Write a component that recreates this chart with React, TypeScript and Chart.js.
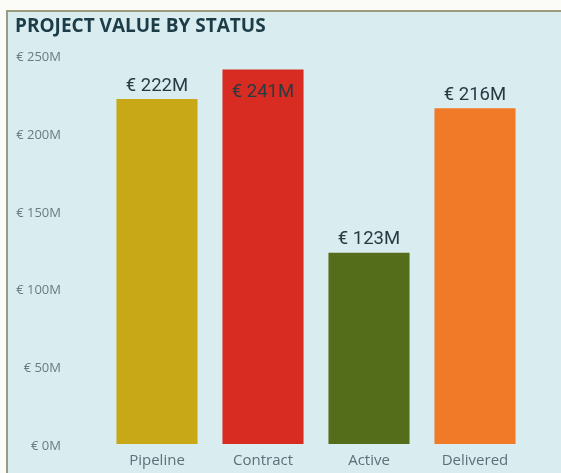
import React, { useEffect, useRef } from "react";
import { Chart, registerables } from "chart.js";

Chart.register(...registerables);

const categories = ["Pipeline", "Contract", "Active", "Delivered"];
const values = [222, 241, 123, 216];
const barColors = ["#c9a817", "#d82b22", "#536d1a", "#f07a27"];
const yTicks = [0, 50, 100, 150, 200, 250];

const FONT = "'Open Sans', 'DejaVu Sans', sans-serif";
const LABEL_FONT = "Roboto, 'Open Sans', sans-serif";

const valueLabels = {
  id: "valueLabels",
  afterDatasetsDraw(chart: any) {
    const ctx = chart.ctx;
    const meta = chart.getDatasetMeta(0);
    const area = chart.chartArea;
    ctx.save();
    ctx.font = `18.5px ${LABEL_FONT}`;
    ctx.fillStyle = "#263b42";
    ctx.textAlign = "center";
    ctx.textBaseline = "middle";
    meta.data.forEach((bar: any, i: number) => {
      const txt = `€ ${values[i]}M`;
      const inside = bar.y - area.top < 30;
      const y = inside ? bar.y + 23 : bar.y - 13;
      ctx.fillText(txt, bar.x, y);
    });
    ctx.restore();
  },
};

export default function App() {
  const ref = useRef<HTMLCanvasElement | null>(null);
  useEffect(() => {
    if (!ref.current) return;
    const chart = new Chart(ref.current, {
      type: "bar",
      data: {
        labels: categories,
        datasets: [
          {
            data: values,
            backgroundColor: barColors,
            borderWidth: 0,
            barPercentage: 0.765,
            categoryPercentage: 1,
          },
        ],
      },
      options: {
        animation: false,
        responsive: false,
        maintainAspectRatio: false,
        layout: { padding: { left: 15, right: 33, top: 12, bottom: 2 } },
        plugins: {
          legend: { display: false },
          tooltip: { enabled: false },
          title: {
            display: true,
            text: "PROJECT VALUE BY STATUS",
            align: "start",
            color: "#1c3c47",
            font: { family: FONT, size: 19, weight: "bold" },
            padding: { top: 3.5, bottom: 17.2 },
          },
        },
        scales: {
          x: {
            grid: { display: false, drawTicks: false },
            border: { display: false },
            ticks: {
              color: "#5b7078",
              font: { family: FONT, size: 15 },
              padding: 8,
            },
            afterFit: (s: any) => {
              s.height = 27;
              s.paddingTop = 0;
              s.paddingBottom = 0;
            },
          },
          y: {
            min: 0,
            max: 250,
            afterBuildTicks: (s: any) => {
              s.ticks = yTicks.map((v) => ({ value: v }));
            },
            grid: { display: false, drawTicks: false },
            border: { display: false },
            ticks: {
              color: "#6a7c83",
              font: { family: FONT, size: 13 },
              padding: 43,
              labelOffset: 2,
              callback: (v: any) => `€ ${v}M`,
            },
            afterFit: (s: any) => {
              s.width = 89;
              s.paddingTop = 0;
              s.paddingBottom = 0;
            },
          },
        },
      },
      plugins: [valueLabels],
    });
    return () => chart.destroy();
  }, []);

  return (
    <div
      style={{
        position: "fixed",
        left: 0,
        top: 0,
        width: 561,
        height: 473,
        background: "#fbfbf7",
        overflow: "hidden",
      }}
    >
      <div
        style={{
          position: "absolute",
          left: 6,
          top: 10,
          width: 570,
          height: 480,
          borderLeft: "2px solid #9c9b80",
          borderTop: "2px solid #9c9b80",
          background: "#d9ecef",
        }}
      />
      <canvas
        ref={ref}
        width={561}
        height={473}
        style={{ position: "absolute", left: 0, top: 0, width: 561, height: 473 }}
      />
    </div>
  );
}
